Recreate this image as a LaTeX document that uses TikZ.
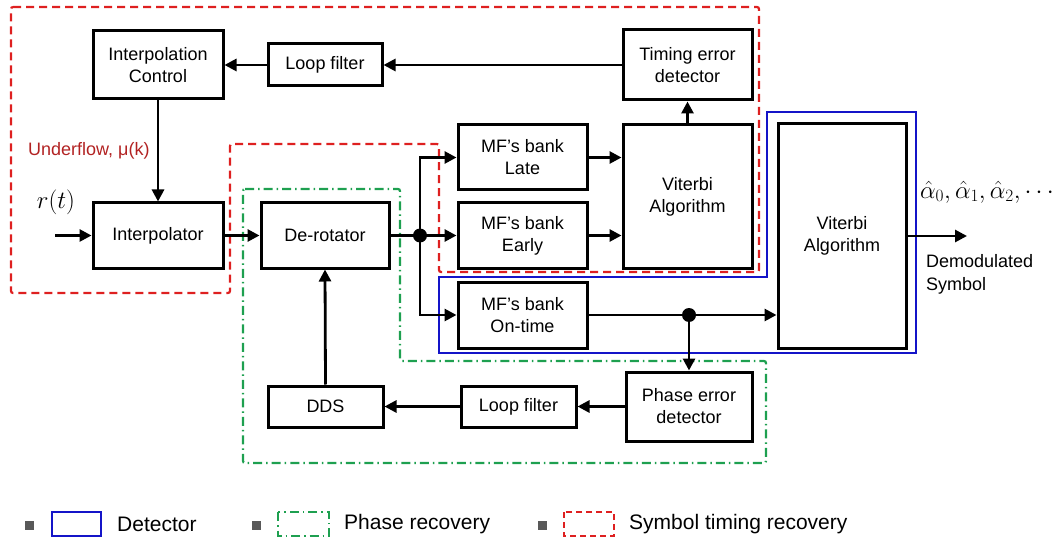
\documentclass[tikz,border=0pt]{standalone}
\usepackage{fontspec}
\setmainfont{Liberation Sans}
\usetikzlibrary{arrows.meta}
\definecolor{rred}{RGB}{222,32,32}
\definecolor{ulred}{RGB}{178,34,34}
\definecolor{gg}{RGB}{30,160,80}
\definecolor{bb}{RGB}{20,20,200}
\begin{document}
\begin{tikzpicture}[x=1pt,y=-1pt,
  blk/.style={draw=black,line width=3pt,fill=white,align=center,inner sep=1pt,
    font=\fontsize{18}{22}\selectfont},
  conn/.style={line width=2.8pt,-{Triangle[length=12pt,width=12pt]}},
  wire/.style={line width=2.8pt},
  jdot/.style={circle,fill=black,inner sep=0pt,minimum size=14pt},
  redreg/.style={draw=rred,line width=2.2pt,dash pattern=on 8pt off 5pt,rounded corners=2pt},
  greenreg/.style={draw=gg,line width=2.2pt,dash pattern=on 9pt off 4pt on 1.5pt off 4pt,rounded corners=2pt},
  bluereg/.style={draw=bb,line width=1.8pt},
  lbl/.style={font=\fontsize{18}{22}\selectfont,inner sep=0pt},
  legtxt/.style={font=\fontsize{21}{24}\selectfont,anchor=west,inner sep=0pt},
  bullet/.style={fill=black!65,inner sep=0pt,minimum size=9pt}
]
\useasboundingbox (0,0) rectangle (1055,540);

% regions
\draw[redreg] (11,7) -- (759,7) -- (759,272) -- (439,272) -- (439,144) -- (230,144) -- (230,293) -- (11,293) -- cycle;
\draw[greenreg] (243,189) -- (400,189) -- (400,361) -- (766,361) -- (766,463) -- (243,463) -- cycle;
\draw[bluereg] (767,112) -- (916,112) -- (916,353) -- (439,353) -- (439,277) -- (767,277) -- cycle;

% blocks
\node[blk,minimum width=130,minimum height=68] (ic) at (158,65) {Interpolation\\Control};
\node[blk,minimum width=114,minimum height=42] (lf1) at (325,65) {Loop filter};
\node[blk,minimum width=129,minimum height=70] (ted) at (687.5,65) {Timing error\\detector};
\node[blk,minimum width=130,minimum height=65] (interp) at (158,235.5) {Interpolator};
\node[blk,minimum width=128,minimum height=65] (derot) at (325,235.5) {De-rotator};
\node[blk,minimum width=129,minimum height=65] (late) at (522.5,157.5) {MF’s bank\\Late};
\node[blk,minimum width=129,minimum height=65] (early) at (522.5,235.5) {MF’s bank\\Early};
\node[blk,minimum width=129,minimum height=66] (ontime) at (522.5,315) {MF’s bank\\On-time};
\node[blk,minimum width=129,minimum height=143] (vit1) at (687.5,196.5) {Viterbi\\Algorithm};
\node[blk,minimum width=128,minimum height=224] (vit2) at (842,236) {Viterbi\\Algorithm};
\node[blk,minimum width=126,minimum height=69] (ped) at (689,406.5) {Phase error\\detector};
\node[blk,minimum width=115,minimum height=41] (lf2) at (518.5,406.5) {Loop filter};
\node[blk,minimum width=115,minimum height=41] (dds) at (325.5,406.5) {DDS};

% labels
\node[lbl,text=ulred,anchor=west] (uf) at (28,151) {Underflow, μ(k)};
\node[inner sep=0pt,font=\fontsize{26}{28}\selectfont] (rt) at (56,202) {$r(t)$};
\node[inner sep=0pt,font=\fontsize{24}{26}\selectfont,anchor=west] (alph) at (920,192) {$\hat{\alpha}_0,\hat{\alpha}_1,\hat{\alpha}_2,\cdots$};
\node[lbl,align=left,anchor=north west,font=\fontsize{18}{23}\selectfont] (dem) at (926,254) {Demodulated\\Symbol};

% coordinates
\coordinate (in) at (55,235.5);
\coordinate (out) at (967,236);
\coordinate (j1) at (420,235.5);
\coordinate (j2) at (ped.north |- ontime.east);

% connectors
\draw[conn] (ted.west) -- (lf1.east);
\draw[conn] (lf1.west) -- (ic.east);
\draw[conn] (ic.south) -- (interp.north);
\draw[conn] (in) -- (interp.west);
\draw[conn] (interp.east) -- (derot.west);
\draw[wire] (derot.east) -- (j1);
\draw[conn] (j1) -- (early.west);
\draw[conn] (j1) |- (late.west);
\draw[conn] (j1) |- (ontime.west);
\draw[conn] (late.east) -- (late.east -| vit1.west);
\draw[conn] (early.east) -- (early.east -| vit1.west);
\draw[conn] (vit1.north -| ted.south) -- (ted.south);
\draw[conn] (ontime.east) -- (ontime.east -| vit2.west);
\draw[conn] (j2) -- (ped.north);
\draw[conn] (ped.west) -- (lf2.east);
\draw[conn] (lf2.west) -- (dds.east);
\draw[conn] (dds.north) -- (derot.south);
\draw[conn] (vit2.east |- out) -- (out);
\node[jdot] (d1) at (j1) {};
\node[jdot] (d2) at (j2) {};

% legend
\node[bullet] (b1) at (29,525.5) {};
\draw[bluereg] (52,512) rectangle (101,536);
\node[legtxt] (l1) at (117,524) {Detector};
\node[bullet] (b2) at (256.5,525.5) {};
\draw[greenreg,rounded corners=0pt] (278,512) rectangle (329,536);
\node[legtxt] (l2) at (344,524) {Phase recovery};
\node[bullet] (b3) at (542,525.5) {};
\draw[redreg,rounded corners=0pt,dash pattern=on 6pt off 4pt] (564,512) rectangle (614,536);
\node[legtxt] (l3) at (629,524) {Symbol timing recovery};
\end{tikzpicture}
\end{document}
